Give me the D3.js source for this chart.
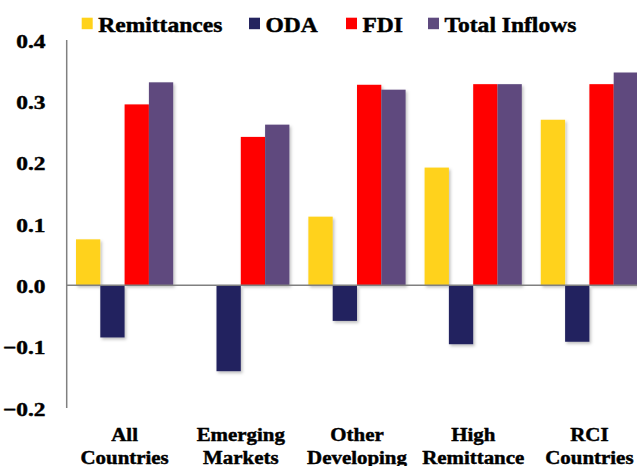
<!DOCTYPE html>
<html><head><meta charset="utf-8">
<script src="https://cdn.jsdelivr.net/npm/d3@7"></script>
<style>body{margin:0;background:#fff}svg{display:block}text{font-family:"Liberation Serif","Times New Roman",serif;font-weight:700;fill:#000;stroke:#000;stroke-width:0.45px}</style>
</head><body><div id="chart"></div>
<script>
const categories = ["All Countries","Emerging Markets","Other Developing","High Remittance","RCI Countries"];
const seriesNames = ["Remittances","ODA","FDI","Total Inflows"];
const remittances = [0.075, 0.0, 0.112, 0.192, 0.270];
const oda = [-0.085, -0.140, -0.058, -0.096, -0.092];
const fdi = [0.295, 0.242, 0.327, 0.328, 0.328];
const totalInflows = [0.331, 0.262, 0.319, 0.328, 0.347];
const yTicks = [-0.2, -0.1, 0.0, 0.1, 0.2, 0.3, 0.4];
const colors = ["#FFD21A", "#24245F", "#FF0000", "#5E4A7E"];

const seriesValues = [remittances, oda, fdi, totalInflows];
const W = 637, H = 466;
const axisX = 66.7;
const svg = d3.select("#chart").append("svg").attr("width", W).attr("height", H);

const defs = svg.append("defs");
const f = defs.append("filter").attr("id","sh").attr("x","-20%").attr("y","-20%").attr("width","150%").attr("height","150%");
f.append("feDropShadow").attr("dx",1.5).attr("dy",2).attr("stdDeviation",1.5).attr("flood-color","#000").attr("flood-opacity",0.25);

const y = d3.scaleLinear().domain([-0.2, 0.4]).range([408, 40]);
const step = 116.2, pi = 0.1635, po = 0.08;
const x0 = d3.scaleBand().domain(categories)
  .range([axisX, axisX + step * (categories.length - pi + 2 * po)])
  .paddingInner(pi).paddingOuter(po);
const x1 = d3.scaleBand().domain(seriesNames).range([0, x0.bandwidth()]);

function stext(g, x, yy, str, size, sx, anchor) {
  return g.append("text").attr("transform", `translate(${x},${yy}) scale(${sx},1)`)
    .attr("font-size", size).attr("text-anchor", anchor || "start").text(str);
}

// bars
const groups = svg.append("g").selectAll("g").data(categories).join("g")
  .attr("transform", d => `translate(${x0(d)},0)`);
groups.selectAll("rect").data((c, i) => seriesNames.map((s, j) => ({s, v: seriesValues[j][i], c: colors[j]})))
  .join("rect")
  .attr("x", d => x1(d.s)).attr("width", x1.bandwidth())
  .attr("y", d => y(Math.max(0, d.v)))
  .attr("height", d => Math.abs(y(d.v) - y(0)))
  .attr("fill", d => d.c).attr("filter", "url(#sh)");

// axes
svg.append("line").attr("x1", axisX).attr("x2", W).attr("y1", y(0)).attr("y2", y(0))
  .attr("stroke", "#808080").attr("stroke-width", 1.5);
svg.append("line").attr("x1", axisX).attr("x2", axisX).attr("y1", y(0.4)).attr("y2", y(-0.2))
  .attr("stroke", "#808080").attr("stroke-width", 1.5);

// y tick labels
const fmt = d3.format(".1f");
const tg = svg.append("g");
yTicks.forEach(t => stext(tg, 45.5, y(t) + 7.5, fmt(t), 19.5, 1.2, "end"));

// category labels
const cg = svg.append("g");
categories.forEach(c => {
  const parts = c.split(" ");
  const cx = x0(c) + x0.bandwidth() / 2;
  stext(cg, cx, 441, parts[0], 19, 1.1, "middle");
  stext(cg, cx, 463.5, parts[1], 19, 1.1, "middle");
});

// legend
const legendX = [81.7, 249, 346, 428];
const lg = svg.append("g");
seriesNames.forEach((s, j) => {
  lg.append("rect").attr("x", legendX[j]).attr("y", 17.7).attr("width", 11).attr("height", 11.5).attr("fill", colors[j]);
  stext(lg, legendX[j] + 16.5, 31.7, s, 22, 1.07, "start");
});
</script></body></html>
